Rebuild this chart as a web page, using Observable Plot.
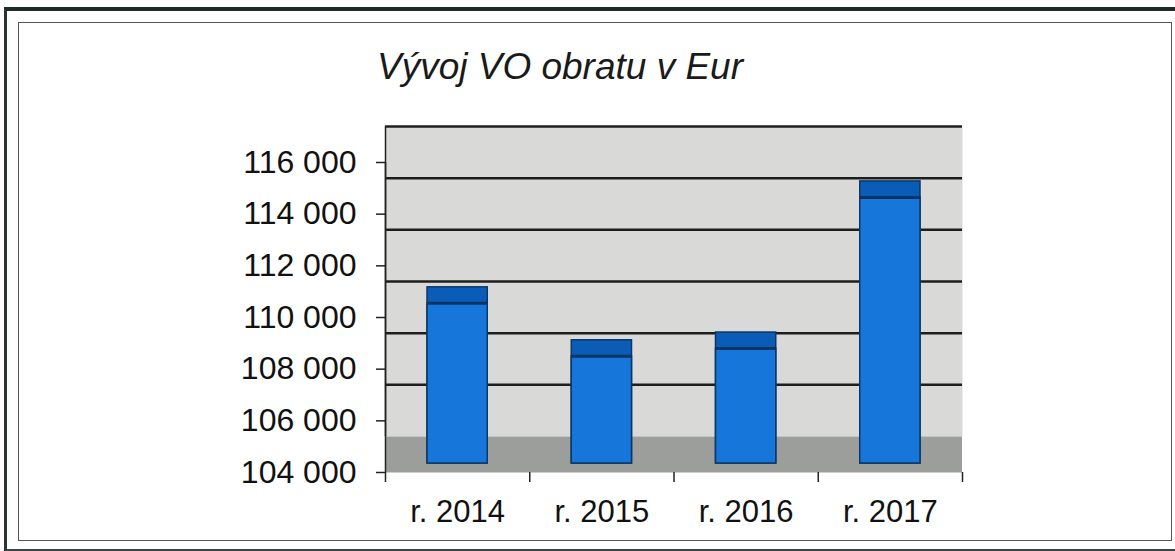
<!DOCTYPE html>
<html>
<head>
<meta charset="utf-8">
<script src="https://cdn.jsdelivr.net/npm/d3@7"></script>
<script src="https://cdn.jsdelivr.net/npm/@observablehq/plot@0.6"></script>
<style>
  html, body { margin: 0; padding: 0; background: #fff; width: 1175px; height: 551px; overflow: hidden; }
  #outer { position: absolute; left: 4px; top: 7px; width: 1190px; height: 538px;
           border-top: 4px solid #1c2a28; border-left: 3px solid #2a3432; border-bottom: 3px solid #3a4442; }
  #inner { position: absolute; left: 18px; top: 22px; width: 1152px; height: 517px; border: 1.5px solid #555; }
  #title { position: absolute; left: 340px; top: 46px; width: 440px; text-align: center;
           font-family: "Liberation Sans", Arial, sans-serif; font-style: italic; font-size: 37px; color: #1a1a1a; white-space: nowrap; }
  #chart { position: absolute; left: 0; top: 0; }
</style>
</head>
<body>
<div id="outer"></div>
<div id="inner"></div>
<div id="title">Vývoj VO obratu v Eur</div>
<div id="chart"></div>
<script>
const categories = ["r. 2014", "r. 2015", "r. 2016", "r. 2017"];
const values = [110200, 108150, 108450, 114300];
const yTicks = [104000, 106000, 108000, 110000, 112000, 114000, 116000];
const gridValues = [106000, 108000, 110000, 112000, 114000, 116000];

const data = categories.map((c, i) => ({cat: c, i, value: values[i]}));
const boundaries = d3.range(categories.length + 1);
const centers = categories.map((c, i) => i + 0.5);
const fmt = v => d3.format(",")(v).replace(/,/g, " ");

const DEPTH = 36;     // back-wall offset (px)
const BAR_DY = -9;    // bar front plane offset (px)
const CAP = 16;       // top face height (px)
const INSET = 42;

const chart = Plot.plot({
  width: 1175,
  height: 551,
  marginLeft: 385,
  marginRight: 213,
  marginTop: 162,
  marginBottom: 79,
  style: {background: "transparent", fontFamily: "'Liberation Sans', Arial, sans-serif", color: "#111"},
  x: {domain: [0, categories.length]},
  y: {domain: [104000, 116000]},
  marks: [
    // back wall
    Plot.frame({fill: "#d9dad7", stroke: null, dy: -DEPTH}),
    // floor
    Plot.ruleY([104000], {stroke: "#9c9e9c", strokeWidth: DEPTH, dy: -DEPTH / 2}),
    // gridlines on back wall
    Plot.ruleY(gridValues, {stroke: "#1e1e1e", strokeWidth: 2.5, dy: -DEPTH}),
    // wall left edge / axis line
    Plot.ruleX([0], {stroke: "#222", strokeWidth: 1.5, dy: -DEPTH}),
    Plot.ruleX([0], {stroke: "#222", strokeWidth: 1.5}),
    // bar top faces (caps)
    Plot.rectY(data, {x1: "i", x2: d => d.i + 1, y1: 104000, y2: "value", dy: BAR_DY,
      insetLeft: INSET, insetRight: INSET, insetTop: -CAP,
      fill: "#0b5cb6", stroke: "#0c3766", strokeWidth: 1.5}),
    // bar front faces
    Plot.rectY(data, {x1: "i", x2: d => d.i + 1, y1: 104000, y2: "value", dy: BAR_DY,
      insetLeft: INSET, insetRight: INSET,
      fill: "#1676da", stroke: "#0c3766", strokeWidth: 1.5}),
    // edge between top and front face
    Plot.ruleY(data, {y: "value", x1: "i", x2: d => d.i + 1, dy: BAR_DY,
      insetLeft: INSET, insetRight: INSET, stroke: "#0a3466", strokeWidth: 3}),
    // y axis
    Plot.axisY({ticks: yTicks, tickFormat: fmt, tickSize: 9, tickPadding: 20,
      fontSize: 32, stroke: "#222", strokeWidth: 1.5, label: null, fill: "#111"}),
    // x axis boundary ticks
    Plot.axisX({ticks: boundaries, tickSize: 10, tickFormat: () => "", stroke: "#222", strokeWidth: 1.5, label: null}),
    // x axis labels
    Plot.axisX({ticks: centers, tickSize: 0, tickPadding: 27, tickFormat: v => categories[Math.floor(v)],
      fontSize: 31, label: null, fill: "#111"})
  ]
});
document.getElementById("chart").appendChild(chart);
</script>
</body>
</html>
